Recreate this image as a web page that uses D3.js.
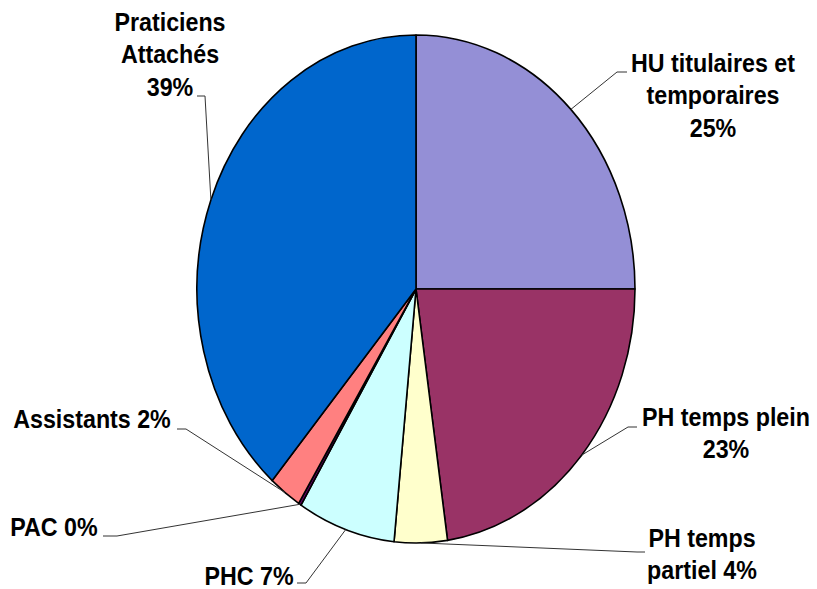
<!DOCTYPE html>
<html>
<head>
<meta charset="utf-8">
<script src="https://cdn.jsdelivr.net/npm/d3@7"></script>
<style>
  body { margin: 0; background: #fff; }
</style>
</head>
<body>
<div id="chart"></div>
<script>
// categories, clockwise from 12 o'clock
var categories = ["HU titulaires et temporaires", "PH temps plein", "PH temps partiel",
                  "PHC", "PAC", "Assistants", "Praticiens Attachés"];
var values = [25.0, 22.7, 3.9, 7.2, 0.2, 2.4, 38.6];
var colors = ["#948FD6", "#993366", "#FFFFCC", "#CCFFFF", "#660066", "#FF8080", "#0066CC"];

var width = 817, height = 589;
var cx = 416, cy = 289, rx = 219, ry = 254;

var svg = d3.select("#chart")
            .append("svg")
            .attr("width", width)
            .attr("height", height);

var pie = d3.pie().sort(null).value(function(d) { return d; });
var arcs = pie(values);
var arc = d3.arc().innerRadius(0).outerRadius(ry);

// pie is drawn round then stretched into an ellipse
var g = svg.append("g")
   .attr("transform", "translate(" + cx + "," + cy + ") scale(" + (rx / ry) + ",1)");

g.selectAll("path")
   .data(arcs)
   .enter()
   .append("path")
   .attr("d", arc)
   .attr("fill", function(d, i) { return colors[i]; })
   .attr("stroke", "#000")
   .attr("stroke-width", 1.6)
   .attr("stroke-linejoin", "round")
   .attr("vector-effect", "non-scaling-stroke");

function pct(i) { return Math.round(values[i]) + "%"; }

// label layout: text lines, center x, first baseline, leader stub
var labels = [
  { lines: ["HU titulaires et", "temporaires", pct(0)], x: 713, y: 72, s: [627, 72, 617, 72] },
  { lines: ["PH temps plein", pct(1)], x: 726, y: 426, s: [637, 427, 628, 427] },
  { lines: ["PH temps", "partiel " + pct(2)], x: 702, y: 547, s: [645, 552, 637, 552] },
  { lines: ["PHC " + pct(3)], x: 249, y: 585, s: [297, 583, 306, 583] },
  { lines: ["PAC " + pct(4)], x: 54, y: 536, s: [103, 536, 117, 536] },
  { lines: ["Assistants " + pct(5)], x: 92, y: 428, s: [177, 429, 186, 429] },
  { lines: ["Praticiens", "Attachés", pct(6)], x: 170, y: 31, s: [197, 96, 205, 96] }
];

// leader lines to the edge at the middle angle of each slice
svg.selectAll("polyline.leader")
   .data(arcs)
   .enter()
   .append("polyline")
   .attr("class", "leader")
   .attr("points", function(d, i) {
      var a = (d.startAngle + d.endAngle) / 2;
      var px = cx + Math.sin(a) * rx, py = cy - Math.cos(a) * ry;
      var s = labels[i].s;
      return [s[0], s[1], s[2], s[3], px, py].join(" ");
   })
   .attr("fill", "none")
   .attr("stroke", "#333")
   .attr("stroke-width", 1);

var lg = svg.selectAll("g.label")
   .data(labels)
   .enter()
   .append("g")
   .attr("class", "label")
   .attr("transform", function(d) { return "translate(" + d.x + "," + d.y + ") scale(0.93,1)"; });

lg.selectAll("text")
   .data(function(d) { return d.lines; })
   .enter()
   .append("text")
   .text(function(d) { return d; })
   .attr("x", 0)
   .attr("y", function(d, i) { return i * 32.5; })
   .attr("text-anchor", "middle")
   .attr("font-family", "Liberation Sans, Arial, sans-serif")
   .attr("font-weight", "bold")
   .attr("font-size", "25px")
   .attr("fill", "#000");
</script>
</body>
</html>
